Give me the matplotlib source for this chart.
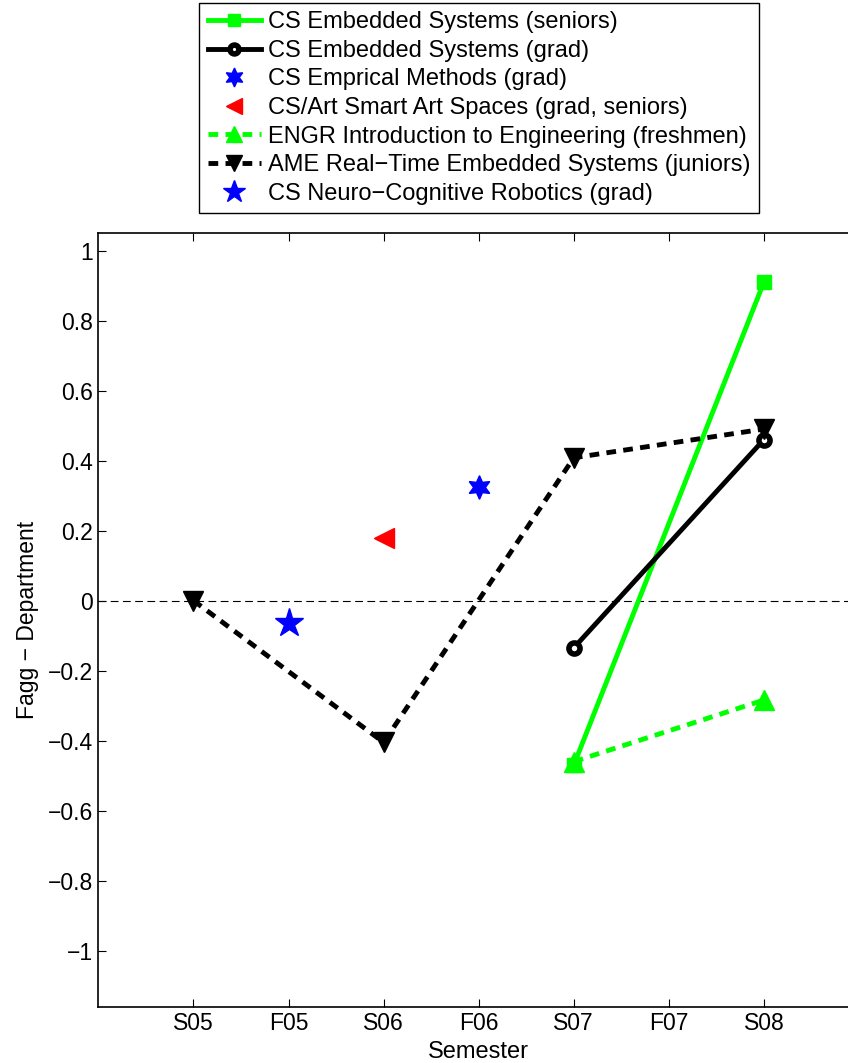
import numpy as np
import matplotlib
matplotlib.use("Agg")
import matplotlib.pyplot as plt

semesters = ['S05', 'F05', 'S06', 'F06', 'S07', 'F07', 'S08']
nan = np.nan

cs_emb_seniors = [nan, nan, nan, nan, -0.47, nan, 0.91]
cs_emb_grad = [nan, nan, nan, nan, -0.135, nan, 0.46]
cs_emp_methods = [nan, nan, nan, 0.325, nan, nan, nan]
cs_art_spaces = [nan, nan, 0.178, nan, nan, nan, nan]
engr_intro = [nan, nan, nan, nan, -0.46, nan, -0.284]
ame_rt_emb = [0.0, nan, -0.405, nan, 0.408, nan, 0.49]
cs_neuro = [nan, -0.063, nan, nan, nan, nan, nan]

labels = [
    'CS Embedded Systems (seniors)',
    'CS Embedded Systems (grad)',
    'CS Emprical Methods (grad)',
    'CS/Art Smart Art Spaces (grad, seniors)',
    'ENGR Introduction to Engineering (freshmen)',
    'AME Real\u2212Time Embedded Systems (juniors)',
    'CS Neuro\u2212Cognitive Robotics (grad)',
]

plt.rcParams['font.family'] = ['Liberation Sans', 'DejaVu Sans']

W, H = 848, 1063
fig = plt.figure(figsize=(W / 100, H / 100), dpi=100)
ax = fig.add_axes([98.4 / W, (H - 1006.7) / H, (859 - 98.4) / W, (1006.7 - 233) / H])

x = np.arange(len(semesters))


def connected(vals):
    v = np.array(vals, dtype=float)
    m = ~np.isnan(v)
    return x[m], v[m]


ax.axhline(0, color='black', lw=0.8, dashes=(7, 4), zorder=1)

green = (0, 1, 0)
lw = 3.5

xs, ys = connected(cs_emb_seniors)
h1, = ax.plot(xs, ys, '-', color=green, lw=lw, marker='s', ms=10, mfc=green,
              mec=green, mew=1, label=labels[0])
xs, ys = connected(cs_emb_grad)
h2, = ax.plot(xs, ys, '-', color='black', lw=lw, marker='o', ms=8, mfc='white',
              mec='black', mew=4, label=labels[1])
xs, ys = connected(cs_emp_methods)
h3, = ax.plot(xs, ys, ls='none', marker=(6, 1, 0), ms=17, color='blue',
              mec='blue', label=labels[2])
xs, ys = connected(cs_art_spaces)
h4, = ax.plot(xs, ys, ls='none', marker='<', ms=14, color='red',
              mec='red', label=labels[3])
xs, ys = connected(engr_intro)
h5, = ax.plot(xs, ys, color=green, lw=lw, dashes=(2.0, 1.5), marker='^', ms=14,
              mfc=green, mec=green, mew=1, label=labels[4])
xs, ys = connected(ame_rt_emb)
h6, = ax.plot(xs, ys, color='black', lw=lw, dashes=(2.0, 1.5), marker='v', ms=14,
              mfc='black', mec='black', mew=1, label=labels[5])
xs, ys = connected(cs_neuro)
h7, = ax.plot(xs, ys, ls='none', marker='*', ms=21, color='blue',
              mec='blue', label=labels[6])

ax.set_xlim(-1, 7)
ax.set_ylim(-1.16, 1.05)
ax.set_xticks(x)
ax.set_xticklabels(semesters)
ax.set_yticks(np.round(np.arange(-1, 1.01, 0.2), 1))
ax.set_yticklabels(['\u22121', '\u22120.8', '\u22120.6', '\u22120.4', '\u22120.2', '0',
                    '0.2', '0.4', '0.6', '0.8', '1'])
ax.tick_params(direction='in', length=6, width=0.8, top=True, right=True,
               labelsize=16.5, pad=4)
for s in ax.spines.values():
    s.set_linewidth(1.2)
ax.set_xlabel('Semester', fontsize=17, labelpad=4)
ax.set_ylabel('Fagg \u2212 Department', fontsize=16.5, labelpad=6)

leg = fig.legend(handles=[h1, h2, h3, h4, h5, h6, h7], loc='upper center',
                 bbox_to_anchor=(479 / W, 1 - 3 / H), fontsize=17, numpoints=1,
                 handlelength=2.25, handletextpad=0.3, borderpad=0.35,
                 labelspacing=0.28, fancybox=False, framealpha=1,
                 edgecolor='black', borderaxespad=0, markerscale=0.8)
leg.get_frame().set_linewidth(1.0)

fig.savefig('out.png', dpi=100)
